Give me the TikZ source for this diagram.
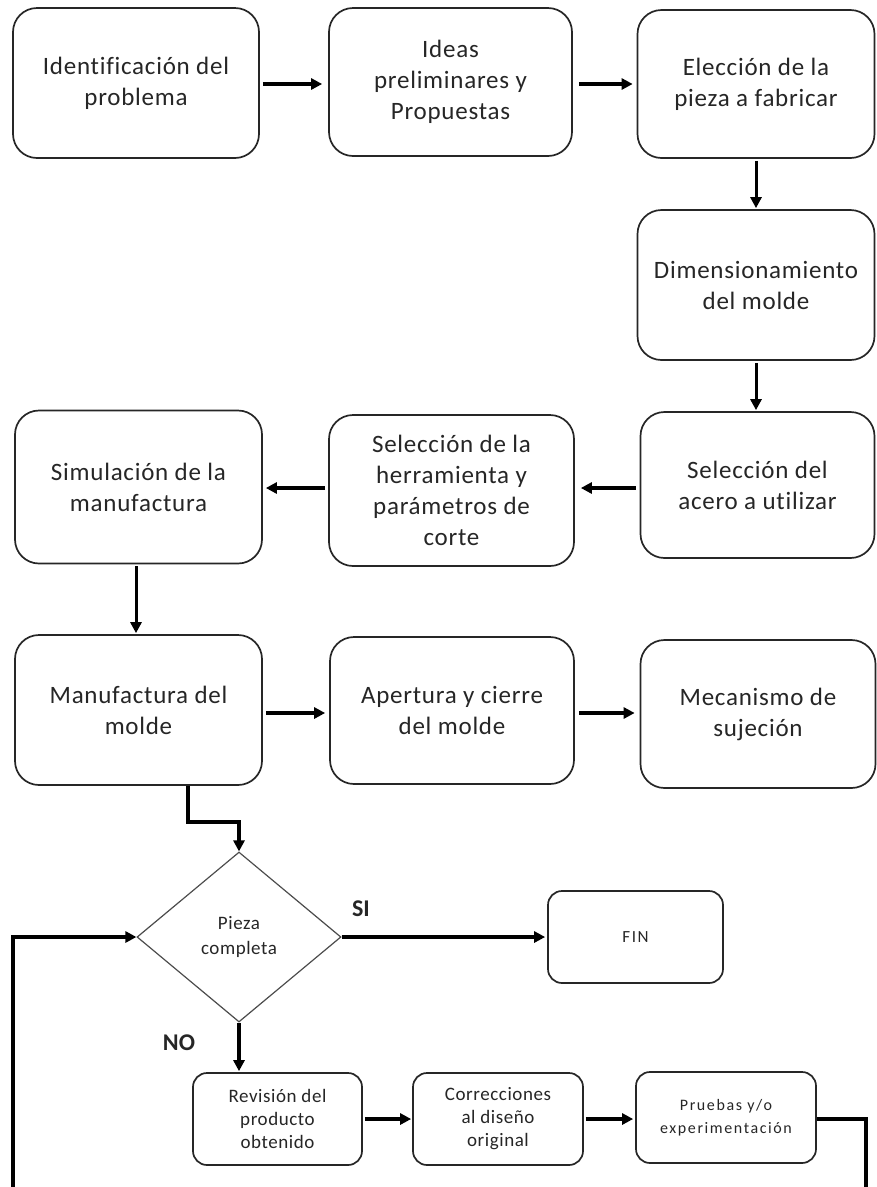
\documentclass[tikz,border=0pt]{standalone}
\usepackage{fontspec}
\setmainfont{Carlito}[Ligatures=NoCommon]
\newfontfamily\boxfont{Carlito}[LetterSpace=3,Ligatures=NoCommon]
\newfontfamily\widefont{Carlito}[LetterSpace=10,Ligatures=NoCommon]
\usetikzlibrary{arrows.meta,shapes.geometric}
\begin{document}
\begin{tikzpicture}[x=1pt,y=-1pt,
  bigbox/.style={draw=black!85,line width=1.7pt,rounded corners=24pt,fill=white,align=center,
    font=\boxfont\fontsize{25}{31}\selectfont,text=black!85,inner sep=0pt},
  smallbox/.style={draw=black!85,line width=1.7pt,rounded corners=14pt,fill=white,align=center,
    font=\boxfont\fontsize{19}{23}\selectfont,text=black!85,inner sep=0pt},
  decision/.style={diamond,draw=black!70,line width=1.2pt,fill=white,align=center,
    font=\boxfont\fontsize{19}{25}\selectfont,text=black!85,inner sep=0pt,aspect=1.2},
  conn/.style={line width=3.6pt,-{Triangle[length=11pt,width=11pt]}},
  lbl/.style={font=\fontsize{24}{28}\selectfont\bfseries,text=black!85}
]
\useasboundingbox (0,0) rectangle (877,1187);
% row 1
\node[bigbox,minimum width=246pt,minimum height=150pt] (A) at (136,83) {Identificación del\\problema};
\node[bigbox,minimum width=243pt,minimum height=148pt] (B) at (450.5,82) {Ideas\\preliminares y\\Propuestas};
\node[bigbox,minimum width=237pt,minimum height=148pt] (C) at (756,84) {Elección de la\\pieza a fabricar};
\node[bigbox,minimum width=237pt,minimum height=150pt] (D) at (756,285) {Dimensionamiento\\del molde};
\node[bigbox,minimum width=234pt,minimum height=146pt] (E) at (757.5,485) {Selección del\\acero a utilizar};
\node[bigbox,minimum width=245pt,minimum height=151pt] (F) at (451.5,490.5) {Selección de la\\herramienta y\\parámetros de\\corte};
\node[bigbox,minimum width=247pt,minimum height=153pt] (G) at (138.5,487) {Simulación de la\\manufactura};
\node[bigbox,minimum width=247pt,minimum height=150pt] (H) at (138.5,710) {Manufactura del\\molde};
\node[bigbox,minimum width=244pt,minimum height=147pt] (I) at (452,710.5) {Apertura y cierre\\del molde};
\node[bigbox,minimum width=235pt,minimum height=148pt] (J) at (758,714) {Mecanismo de\\sujeción};
% decision
\node[decision,minimum width=204pt,minimum height=170pt] (P) at (239,937) {Pieza\\completa};
\node[smallbox,minimum width=175pt,minimum height=92pt,font=\widefont\fontsize{17}{20}\selectfont] (FIN) at (635.5,937) {FIN};
\node[smallbox,minimum width=169pt,minimum height=92pt] (K) at (277.5,1119) {Revisión del\\producto\\obtenido};
\node[smallbox,minimum width=170pt,minimum height=92pt] (L) at (498,1119) {Correcciones\\al diseño\\original};
\node[smallbox,minimum width=180pt,minimum height=91pt,font=\widefont\fontsize{16}{23}\selectfont] (M) at (726,1117.5) {Pruebas y/o\\experimentación};
% labels
\node[lbl] (si) at (361,909) {SI};
\node[lbl] (no) at (179,1043) {NO};
% helper coordinates (yshift is in canvas direction: negative = down)
\coordinate (ab) at ([xshift=3pt,yshift=-1pt]A.east);
\coordinate (bc) at ([xshift=6pt,yshift=-2pt]B.east);
\coordinate (ef) at ([xshift=-4pt,yshift=-3pt]E.west);
\coordinate (fg) at ([xshift=-3pt,yshift=2.5pt]F.west);
\coordinate (hi) at ([xshift=3pt,yshift=-3pt]H.east);
\coordinate (ij) at ([xshift=4pt,yshift=-2.5pt]I.east);
\coordinate (h0) at (H.south -| 188,0);
\coordinate (h1) at (188,822);
\coordinate (h2) at (239,822);
\coordinate (m0) at ([yshift=-1.5pt]M.east);
\coordinate (m1) at (866,1119);
\coordinate (m2) at (866,1200);
\coordinate (m3) at (13,1200);
\coordinate (m4) at (13,937);
% connectors
\draw[conn] (ab) -- ([xshift=-6pt]B.west |- ab);
\draw[conn] (bc) -- ([xshift=-4pt]C.west |- bc);
\draw[conn,line width=3pt] ([yshift=-2pt]C.south) -- ([yshift=1pt]D.north);
\draw[conn,line width=3pt] ([yshift=-2pt]D.south) -- ([yshift=1pt]D.south |- E.north);
\draw[conn] (ef) -- ([xshift=6pt]F.east |- ef);
\draw[conn] (fg) -- ([xshift=3pt]G.east |- fg);
\draw[conn,line width=3pt] ([xshift=-2.5pt,yshift=-2pt]G.south) -- ([xshift=-2.5pt,yshift=1pt]H.north);
\draw[conn] (hi) -- ([xshift=-4pt]I.west |- hi);
\draw[conn] (ij) -- ([xshift=-5pt]J.west |- ij);
\draw[line width=4.5pt,-{Triangle[length=11pt,width=11pt]}] (h0) -- (h1) -- (h2) -- (P.north);
\draw[conn] (P.east) -- ([xshift=-2pt]FIN.west |- P.east);
\draw[conn] (P.south) -- ([yshift=1pt]K.north -| P.south);
\draw[conn] ([xshift=2pt]K.east) -- ([xshift=-1pt]L.west);
\draw[conn] ([xshift=2pt]L.east) -- ([xshift=-2pt]M.west |- L.east);
\draw[line width=3.6pt,-{Triangle[length=11pt,width=11pt]}] (m0) -- (m1) -- (m2) -- (m3) -- (m4) -- (P.west);
\end{tikzpicture}
\end{document}
